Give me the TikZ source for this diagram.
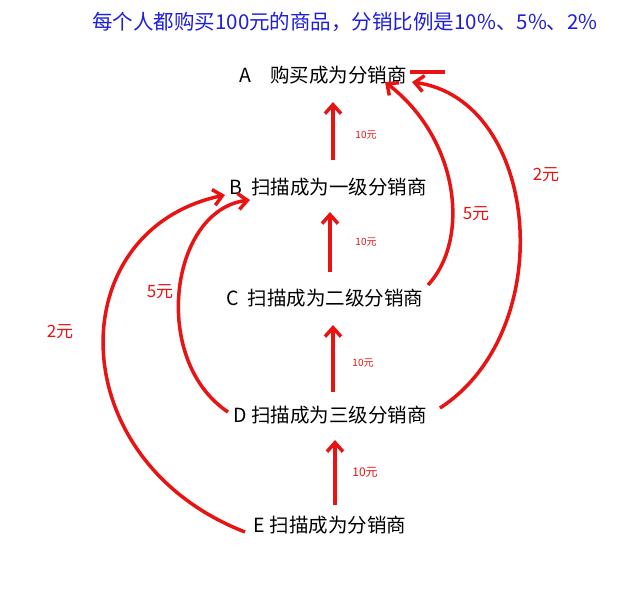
\documentclass[tikz,border=0pt]{standalone}
\usepackage{fontspec}
\setmainfont{Liberation Sans}
\newfontfamily\cjk{Noto Sans CJK SC}
\usetikzlibrary{arrows.meta}
\definecolor{rd}{RGB}{232,20,20}
\definecolor{bl}{RGB}{30,30,220}
\begin{document}
\begin{tikzpicture}[x=1pt,y=-1pt,
  lbl/.style={font=\cjk\fontsize{19.5}{22}\selectfont,inner sep=1pt},
  arr/.style={draw=rd,line width=3.5pt,-{Straight Barb[length=9pt,width=16pt]}},
  sm/.style={text=rd,font=\cjk\fontsize{10}{11}\selectfont},
  md/.style={text=rd,font=\cjk\fontsize{17}{19}\selectfont}]
\fill[white] (0,0) rectangle (640,606);
\node[text=bl,font=\cjk\fontsize{20.5}{23}\selectfont] (t) at (345,22) {每个人都购买100元的商品，分销比例是10\%、5\%、2\%};
\node[lbl] (A) at (323,75) {A\quad 购买成为分销商};
\node[lbl] (B) at (328,187) {B\ \ 扫描成为一级分销商};
\node[lbl] (C) at (325,298) {C\ \ 扫描成为二级分销商};
\node[lbl] (D) at (330,415) {D\ 扫描成为三级分销商};
\node[lbl] (E) at (330,525) {E\ 扫描成为分销商};
\draw[arr] (333,160) -- (333,102);
\draw[arr] (330,272) -- (330,212);
\draw[arr] (333,392) -- (333,325);
\draw[arr] (335,505) -- (335,440);
\node[sm] (l1) at (366,135) {10元};
\node[sm] (l2) at (366,242) {10元};
\node[sm] (l3) at (363,363) {10元};
\node[text=rd,font=\cjk\fontsize{12}{13}\selectfont] (l4) at (365,472) {10元};
\coordinate (c1) at (428,285);
\coordinate (a1) at (385,82);
\draw[arr] (c1) .. controls (470,240) and (460,140) .. (a1);
\node[md] (l5) at (476,214) {5元};
\coordinate (d1) at (440,408);
\coordinate (a2) at (412,82);
\draw[arr] (d1) .. controls (560,330) and (540,100) .. (a2);
\draw[draw=rd,line width=3.5pt] (410,72) -- (445,72);
\node[md] (l6) at (546,175) {2元};
\coordinate (d2) at (228,412);
\coordinate (b1) at (250,200);
\draw[arr] (d2) .. controls (150,360) and (170,210) .. (b1);
\node[md] (l7) at (160,292) {5元};
\coordinate (e1) at (245,532);
\coordinate (b2) at (225,195);
\draw[arr] (e1) .. controls (60,460) and (60,230) .. (b2);
\node[md] (l8) at (60,332) {2元};
\end{tikzpicture}
\end{document}
